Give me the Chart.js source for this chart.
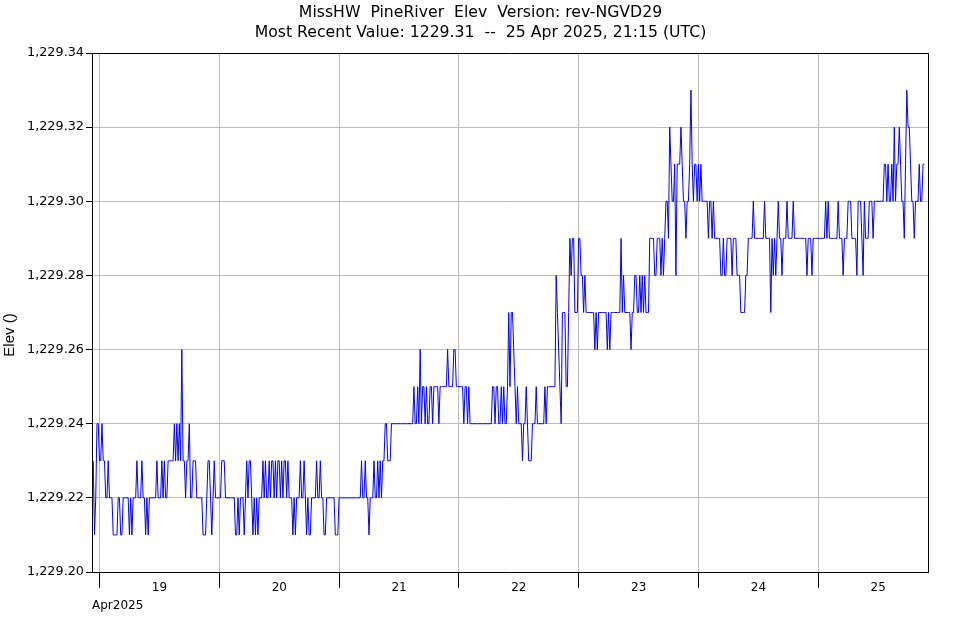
<!DOCTYPE html>
<html>
<head>
<meta charset="utf-8">
<script src="https://cdn.jsdelivr.net/npm/chart.js@4.4.1/dist/chart.umd.min.js"></script>
<style>
html,body{margin:0;padding:0;background:#ffffff;}
canvas{display:block;}
</style>
</head>
<body>
<canvas id="c" width="961" height="620"></canvas>
<script>
// ---- text ----
const titleLines = [
  'MissHW  PineRiver  Elev  Version: rev-NGVD29',
  'Most Recent Value: 1229.31  --  25 Apr 2025, 21:15 (UTC)'
];
const yAxisTitle = 'Elev ()';
const xAxisTitle = 'Apr2025';

// ---- x axis: hours since 19 Apr 2025 00:00 UTC ----
const dayLabels = ['19', '20', '21', '22', '23', '24', '25'];
const dayTickHours = [0, 24, 48, 72, 96, 120, 144];
const xAxisMinHour = -1.5;   // 18 Apr 22:30
const xAxisMaxHour = 166;    // 25 Apr 22:00

// ---- y axis ----
const yTickValues = [1229.20, 1229.22, 1229.24, 1229.26, 1229.28, 1229.30, 1229.32, 1229.34];

// ---- series: 15-minute readings, first one 18 Apr 22:45 UTC ----
const firstReadingHour = -1.25;
const readingStepHours = 0.25;

const elevApr18 = [1229.23,1229.21,1229.22,1229.24,1229.24];
const elevApr19 = [
  1229.23,1229.23,1229.24,1229.23,
  1229.23,1229.22,1229.22,1229.23,1229.22,1229.22,1229.22,1229.21,1229.21,1229.21,
  1229.21,1229.22,1229.22,1229.21,1229.21,1229.22,1229.22,1229.22,1229.22,1229.22,
  1229.21,1229.22,1229.21,1229.22,1229.22,1229.22,1229.23,1229.22,1229.22,1229.22,
  1229.23,1229.22,1229.22,1229.21,1229.22,1229.21,1229.22,1229.22,1229.22,1229.22,
  1229.22,1229.22,1229.23,1229.22,1229.22,1229.22,1229.23,1229.22,1229.23,1229.22,
  1229.22,1229.23,1229.23,1229.23,1229.23,1229.23,1229.24,1229.23,1229.24,1229.23,
  1229.24,1229.23,1229.26,1229.23,1229.23,1229.22,1229.23,1229.23,1229.24,1229.22,
  1229.22,1229.23,1229.23,1229.23,1229.22,1229.22,1229.22,1229.22,1229.22,1229.21,
  1229.21,1229.21,1229.22,1229.23,1229.23,1229.22,1229.21,1229.22,1229.23,1229.22,
  1229.22,1229.22
];
const elevApr20 = [
  1229.22,1229.22,1229.23,1229.23,1229.23,1229.22,1229.22,1229.22,1229.22,1229.22,
  1229.22,1229.22,1229.22,1229.21,1229.21,1229.22,1229.21,1229.22,1229.22,1229.22,
  1229.21,1229.22,1229.23,1229.22,1229.23,1229.23,1229.22,1229.21,1229.22,1229.21,
  1229.22,1229.21,1229.22,1229.22,1229.22,1229.23,1229.22,1229.23,1229.22,1229.22,
  1229.23,1229.22,1229.23,1229.23,1229.22,1229.23,1229.22,1229.23,1229.23,1229.22,
  1229.23,1229.22,1229.23,1229.23,1229.22,1229.23,1229.22,1229.22,1229.22,1229.21,
  1229.22,1229.21,1229.22,1229.22,1229.22,1229.23,1229.22,1229.22,1229.23,1229.22,
  1229.21,1229.22,1229.21,1229.21,1229.22,1229.22,1229.22,1229.22,1229.23,1229.22,
  1229.22,1229.23,1229.22,1229.22,1229.21,1229.21,1229.22,1229.22,1229.22,1229.22,
  1229.22,1229.22,1229.22,1229.21,1229.21,1229.21
];
const elevApr21 = [
  1229.22,1229.22,1229.22,1229.22,1229.22,1229.22,1229.22,1229.22,1229.22,1229.22,
  1229.22,1229.22,1229.22,1229.22,1229.22,1229.22,1229.22,1229.22,1229.23,1229.22,
  1229.22,1229.23,1229.22,1229.22,1229.21,1229.22,1229.22,1229.22,1229.23,1229.22,
  1229.22,1229.23,1229.22,1229.23,1229.22,1229.23,1229.23,1229.24,1229.24,1229.23,
  1229.23,1229.23,1229.24,1229.24,1229.24,1229.24,1229.24,1229.24,1229.24,1229.24,
  1229.24,1229.24,1229.24,1229.24,1229.24,1229.24,1229.24,1229.24,1229.24,1229.24,
  1229.25,1229.24,1229.24,1229.25,1229.24,1229.26,1229.24,1229.25,1229.25,1229.24,
  1229.25,1229.24,1229.24,1229.25,1229.25,1229.24,1229.25,1229.25,1229.25,1229.25,
  1229.24,1229.25,1229.25,1229.25,1229.25,1229.25,1229.25,1229.26,1229.25,1229.25,
  1229.25,1229.25,1229.26,1229.26,1229.25,1229.25
];
const elevApr22 = [
  1229.25,1229.25,1229.25,1229.25,1229.24,1229.25,1229.25,1229.24,1229.25,1229.24,
  1229.24,1229.24,1229.24,1229.24,1229.24,1229.24,1229.24,1229.24,1229.24,1229.24,
  1229.24,1229.24,1229.24,1229.24,1229.24,1229.24,1229.24,1229.25,1229.25,1229.24,
  1229.25,1229.25,1229.24,1229.24,1229.25,1229.24,1229.25,1229.24,1229.24,1229.25,
  1229.27,1229.25,1229.27,1229.27,1229.26,1229.25,1229.24,1229.25,1229.24,1229.24,
  1229.24,1229.23,1229.24,1229.24,1229.25,1229.24,1229.23,1229.23,1229.23,1229.24,
  1229.24,1229.24,1229.25,1229.24,1229.24,1229.24,1229.24,1229.24,1229.24,1229.25,
  1229.24,1229.25,1229.25,1229.25,1229.25,1229.25,1229.25,1229.25,1229.28,1229.27,
  1229.26,1229.25,1229.24,1229.27,1229.27,1229.27,1229.25,1229.25,1229.27,1229.29,
  1229.28,1229.29,1229.29,1229.27,1229.27,1229.27
];
const elevApr23 = [
  1229.29,1229.29,1229.28,1229.28,1229.27,1229.28,1229.27,1229.27,1229.27,1229.27,
  1229.27,1229.27,1229.27,1229.26,1229.27,1229.26,1229.27,1229.27,1229.27,1229.27,
  1229.27,1229.27,1229.27,1229.26,1229.27,1229.26,1229.27,1229.27,1229.27,1229.27,
  1229.27,1229.27,1229.27,1229.27,1229.29,1229.27,1229.28,1229.27,1229.27,1229.27,
  1229.27,1229.27,1229.26,1229.27,1229.27,1229.28,1229.28,1229.27,1229.27,1229.28,
  1229.27,1229.28,1229.27,1229.28,1229.27,1229.27,1229.27,1229.29,1229.29,1229.29,
  1229.29,1229.28,1229.28,1229.29,1229.29,1229.29,1229.28,1229.29,1229.28,1229.29,
  1229.30,1229.30,1229.29,1229.32,1229.31,1229.30,1229.30,1229.31,1229.28,1229.31,
  1229.31,1229.31,1229.32,1229.31,1229.30,1229.30,1229.29,1229.30,1229.30,1229.31,
  1229.33,1229.31,1229.30,1229.31,1229.31,1229.30
];
const elevApr24 = [
  1229.31,1229.30,1229.31,1229.30,1229.30,1229.30,1229.30,1229.30,1229.29,1229.30,
  1229.30,1229.29,1229.30,1229.29,1229.29,1229.29,1229.29,1229.29,1229.28,1229.28,
  1229.29,1229.28,1229.28,1229.29,1229.29,1229.29,1229.29,1229.28,1229.29,1229.29,
  1229.29,1229.28,1229.28,1229.28,1229.27,1229.27,1229.27,1229.27,1229.28,1229.28,
  1229.29,1229.29,1229.29,1229.29,1229.30,1229.29,1229.29,1229.29,1229.29,1229.29,
  1229.29,1229.29,1229.29,1229.30,1229.29,1229.29,1229.29,1229.29,1229.27,1229.29,
  1229.28,1229.29,1229.28,1229.29,1229.30,1229.29,1229.29,1229.28,1229.29,1229.29,
  1229.29,1229.30,1229.29,1229.29,1229.29,1229.29,1229.30,1229.29,1229.29,1229.29,
  1229.29,1229.29,1229.29,1229.29,1229.29,1229.29,1229.29,1229.28,1229.29,1229.29,
  1229.29,1229.28,1229.29,1229.29,1229.29,1229.29
];
const elevApr25 = [
  1229.29,1229.29,1229.29,1229.29,1229.29,1229.29,1229.30,1229.29,1229.30,1229.29,
  1229.29,1229.29,1229.29,1229.29,1229.29,1229.29,1229.30,1229.29,1229.29,1229.29,
  1229.28,1229.29,1229.29,1229.29,1229.30,1229.30,1229.30,1229.29,1229.29,1229.29,
  1229.29,1229.28,1229.30,1229.30,1229.30,1229.29,1229.28,1229.30,1229.29,1229.29,
  1229.29,1229.30,1229.30,1229.30,1229.29,1229.30,1229.30,1229.30,1229.30,1229.30,
  1229.30,1229.30,1229.30,1229.31,1229.31,1229.30,1229.31,1229.30,1229.30,1229.31,
  1229.30,1229.32,1229.30,1229.31,1229.31,1229.32,1229.31,1229.30,1229.30,1229.29,
  1229.31,1229.33,1229.32,1229.32,1229.31,1229.30,1229.30,1229.29,1229.30,1229.30,
  1229.30,1229.31,1229.30,1229.30,1229.31,1229.31
];

const elevValues = [].concat(elevApr18, elevApr19, elevApr20, elevApr21, elevApr22, elevApr23, elevApr24, elevApr25);
const points = elevValues.map((v, i) => ({ x: firstReadingHour + i * readingStepHours, y: v }));

const tickFont = { family: 'DejaVu Sans', size: 12, weight: 'normal' };
const yTickFont = { family: 'DejaVu Sans', size: 12.8, weight: 'normal' };
const gridGray = '#bdbdbd';

// y-axis title, drawn rotated beside the axis
const yTitlePlugin = {
  id: 'yTitle',
  afterDraw(chart) {
    const ctx = chart.ctx;
    ctx.save();
    ctx.translate(10, 335);
    ctx.rotate(-Math.PI / 2);
    ctx.fillStyle = '#000000';
    ctx.font = '15px "Liberation Sans"';
    ctx.textAlign = 'center';
    ctx.textBaseline = 'middle';
    ctx.fillText(yAxisTitle, 0, 0);
    ctx.restore();
  }
};

new Chart(document.getElementById('c'), {
  type: 'line',
  data: {
    datasets: [{
      data: points,
      borderColor: '#0000ff',
      borderWidth: 1,
      pointRadius: 0,
      pointHoverRadius: 0,
      tension: 0,
      fill: false,
      xAxisID: 'x',
      yAxisID: 'y'
    }]
  },
  plugins: [yTitlePlugin],
  options: {
    responsive: false,
    animation: false,
    devicePixelRatio: 1,
    events: [],
    layout: { padding: 0 },
    plugins: {
      legend: { display: false },
      tooltip: { enabled: false },
      title: {
        display: true,
        text: titleLines,
        color: '#000000',
        font: { family: 'DejaVu Sans', size: 15.7, weight: 'normal', lineHeight: '19.5px' },
        padding: { top: 3.5, bottom: 10.5 }
      }
    },
    scales: {
      x: {
        type: 'linear',
        position: 'bottom',
        min: xAxisMinHour,
        max: xAxisMaxHour,
        afterBuildTicks: (s) => { s.ticks = dayTickHours.map(v => ({ value: v })); },
        ticks: {
          callback: (v, i) => dayLabels[i],
          labelOffset: 60,
          padding: -7,
          autoSkip: false,
          maxRotation: 0,
          minRotation: 0,
          color: '#000000',
          font: tickFont
        },
        grid: { color: gridGray, tickColor: '#000000', tickLength: 16, lineWidth: 1 },
        border: { color: '#000000', width: 1 },
        title: {
          display: true,
          text: xAxisTitle,
          align: 'start',
          color: '#000000',
          font: tickFont,
          padding: { top: 0, bottom: 7 }
        },
        afterFit: (s) => { s.height = 48; }
      },
      xTop: {
        type: 'linear',
        position: 'top',
        min: xAxisMinHour,
        max: xAxisMaxHour,
        ticks: { display: false },
        grid: { drawOnChartArea: false, drawTicks: false },
        border: { color: '#000000', width: 1 },
        afterFit: (s) => { s.height = 0; }
      },
      y: {
        type: 'linear',
        position: 'left',
        min: yTickValues[0],
        max: yTickValues[yTickValues.length - 1],
        afterBuildTicks: (s) => { s.ticks = yTickValues.map(v => ({ value: v })); },
        ticks: {
          callback: (v) => Number(v).toLocaleString('en-US', { minimumFractionDigits: 2, maximumFractionDigits: 2 }),
          padding: 2,
          color: '#000000',
          font: yTickFont
        },
        grid: { color: gridGray, tickColor: '#000000', tickLength: 6, lineWidth: 1 },
        border: { color: '#000000', width: 1 },
        title: { display: false },
        afterFit: (s) => { s.width = 92; }
      },
      yRight: {
        type: 'linear',
        position: 'right',
        min: yTickValues[0],
        max: yTickValues[yTickValues.length - 1],
        ticks: { display: false },
        grid: { drawOnChartArea: false, drawTicks: false },
        border: { color: '#000000', width: 1, dash: [3, 2] },
        afterFit: (s) => { s.width = 33; }
      }
    }
  }
});
</script>
</body>
</html>
